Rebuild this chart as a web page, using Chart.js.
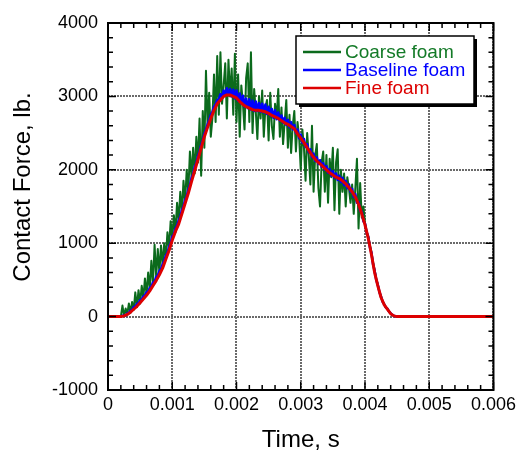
<!DOCTYPE html>
<html>
<head>
<meta charset="utf-8">
<script src="https://cdn.jsdelivr.net/npm/chart.js@4.4.1/dist/chart.umd.min.js"></script>
<style>
  html, body { margin: 0; padding: 0; background: #fff; }
</style>
</head>
<body>
<canvas id="chart" width="520" height="454"></canvas>
<script>
// Time stamps in microseconds
const fineTimeUs = [0,
  200, 250, 300, 350, 400, 450, 500, 550, 600, 650,
  700, 750, 800, 850, 900, 950, 1000, 1050, 1100, 1150,
  1200, 1250, 1300, 1350, 1400, 1450, 1500, 1550, 1600, 1650,
  1700, 1750, 1800, 1850, 1900, 1950, 2000, 2050, 2100, 2150,
  2200, 2250, 2300, 2350, 2400, 2450, 2500, 2550, 2600, 2650,
  2700, 2750, 2800, 2850, 2900, 2950, 3000, 3050, 3100, 3150,
  3200, 3250, 3300, 3350, 3400, 3450, 3500, 3550, 3600, 3650,
  3700, 3750, 3800, 3850, 3900, 3950, 4000, 4050, 4100, 4150,
  4200, 4250, 4300, 4350, 4400, 4450, 4500, 6000];

// Fine foam contact force, lb.
const fineForce = [0,
  0, 10, 30, 60, 100, 140, 190, 240, 290, 350,
  420, 490, 570, 660, 780, 900, 1040, 1160, 1260, 1400,
  1540, 1680, 1840, 1990, 2140, 2300, 2450, 2580, 2700, 2810,
  2900, 2950, 3000, 3020, 3020, 3000, 2980, 2930, 2890, 2860,
  2840, 2820, 2810, 2810, 2800, 2790, 2770, 2740, 2720, 2700,
  2670, 2640, 2620, 2590, 2560, 2490, 2430, 2370, 2300, 2230,
  2170, 2120, 2080, 2040, 2000, 1960, 1930, 1900, 1880, 1850,
  1810, 1760, 1700, 1630, 1530, 1400, 1250, 1070, 850, 600,
  420, 260, 160, 100, 40, 10, 0, 0];

const noisyTimeUs = [0,
  200, 225, 250, 275, 300, 325, 350, 375,
  400, 425, 450, 475, 500, 525, 550, 575,
  600, 625, 650, 675, 700, 725, 750, 775,
  800, 825, 850, 875, 900, 925, 950, 975,
  1000, 1025, 1050, 1075, 1100, 1125, 1150, 1175,
  1200, 1225, 1250, 1275, 1300, 1325, 1350, 1375,
  1400, 1425, 1450, 1475, 1500, 1525, 1550, 1575,
  1600, 1625, 1650, 1675, 1700, 1725, 1750, 1775,
  1800, 1825, 1850, 1875, 1900, 1925, 1950, 1975,
  2000, 2025, 2050, 2075, 2100, 2125, 2150, 2175,
  2200, 2225, 2250, 2275, 2300, 2325, 2350, 2375,
  2400, 2425, 2450, 2475, 2500, 2525, 2550, 2575,
  2600, 2625, 2650, 2675, 2700, 2725, 2750, 2775,
  2800, 2825, 2850, 2875, 2900, 2925, 2950, 2975,
  3000, 3025, 3050, 3075, 3100, 3125, 3150, 3175,
  3200, 3225, 3250, 3275, 3300, 3325, 3350, 3375,
  3400, 3425, 3450, 3475, 3500, 3525, 3550, 3575,
  3600, 3625, 3650, 3675, 3700, 3725, 3750, 3775,
  3800, 3825, 3850, 3875, 3900, 3925, 3950, 3975,
  4000, 4025, 4050, 4075, 4100, 4125, 4150, 4175,
  4200, 4225, 4250, 4275, 4300, 4325, 4350, 4375,
  4400, 4425, 4450, 4475, 4500, 6000];

// Baseline foam contact force, lb.
const baselineForce = [0,
  0, 10, 20, 15, 45, 50, 85, 90,
  130, 135, 175, 180, 225, 235, 275, 290,
  330, 345, 390, 410, 465, 480, 540, 560,
  620, 650, 710, 760, 830, 870, 950, 1000,
  1090, 1120, 1200, 1240, 1310, 1360, 1450, 1500,
  1590, 1640, 1730, 1790, 1890, 1940, 2040, 2090,
  2190, 2250, 2340, 2400, 2490, 2550, 2620, 2680,
  2750, 2790, 2860, 2890, 2950, 2960, 3030, 2990,
  3080, 3020, 3110, 3030, 3100, 3000, 3090, 2970,
  3080, 2940, 3040, 2900, 3010, 2860, 2970, 2840,
  2960, 2820, 2940, 2800, 2930, 2800, 2910, 2790,
  2900, 2780, 2890, 2760, 2860, 2740, 2830, 2710,
  2810, 2690, 2780, 2670, 2740, 2640, 2710, 2610,
  2680, 2580, 2650, 2550, 2610, 2500, 2550, 2430,
  2480, 2370, 2420, 2310, 2350, 2240, 2280, 2170,
  2220, 2120, 2170, 2080, 2130, 2040, 2090, 2000,
  2050, 1960, 2010, 1920, 1980, 1890, 1950, 1860,
  1920, 1830, 1890, 1790, 1850, 1750, 1800, 1700,
  1740, 1630, 1670, 1550, 1560, 1440, 1430, 1300,
  1270, 1150, 1090, 950, 870, 715, 620, 500,
  430, 335, 270, 205, 165, 125, 105, 68,
  45, 22, 12, 4, 0, 0];

// Coarse foam contact force, lb.
const coarseForce = [0,
  0, 150, 10, 110, 30, 180, 50, 200,
  90, 330, 130, 360, 180, 420, 250, 520,
  300, 600, 380, 760, 450, 980, 540, 920,
  600, 970, 700, 1000, 790, 1150, 930, 1300,
  1050, 1380, 1150, 1550, 1300, 1700, 1420, 1850,
  1550, 2000, 1700, 2250, 1900, 2300, 1950, 2450,
  2100, 2700, 1920, 2800, 2300, 3350, 2600, 3050,
  2450, 2700, 3300, 2650, 3550, 2750, 3600, 2900,
  3150, 3450, 2700, 3500, 3000, 3380, 2750, 3580,
  2650, 3300, 2450, 3150, 2900, 2550, 3250, 3450,
  2650, 3600, 2500, 3100, 2800, 2420, 3000, 2700,
  3080, 2450, 2850, 2950, 2400, 3050, 2600, 2420,
  2900, 2700, 3100, 2450, 2850, 2350, 2650, 2950,
  2300, 2750, 2230, 2600, 2800, 2250, 2650, 2450,
  2000, 2550, 2300, 1850, 2500, 2200, 1800, 2600,
  1700, 2200, 2350, 1750, 1500, 2100, 2250, 1700,
  2200, 1550, 2150, 1900, 2300, 1450, 2100, 2280,
  1400, 2000, 1700, 1950, 1500, 1900, 1750, 1550,
  1800, 1400, 1750, 2150, 1200, 1820, 1350, 1500,
  1280, 1150, 1100, 980, 880, 740, 640, 520,
  440, 330, 280, 200, 170, 120, 110, 60,
  45, 20, 10, 0, 0, 0];

const seriesNames = ['Coarse foam', 'Baseline foam', 'Fine foam'];
const seriesColors = ['#0b6a1c', '#0000ff', '#dd0000'];
const legendTextColors = ['#137a27', '#0000ff', '#dd0000'];
const xTickValues = [0, 0.001, 0.002, 0.003, 0.004, 0.005, 0.006];
const yTickValues = [-1000, 0, 1000, 2000, 3000, 4000];

const toPoints = (timesUs, values) => timesUs.map((t, i) => ({ x: t / 1e6, y: values[i] }));

const FONT = '"Liberation Sans", Arial, sans-serif';

// Inward minor/major ticks on every side, frame, axis titles, legend box
const decorations = {
    id: 'decorations',
    afterDatasetsDraw(chart) {
        const { ctx, chartArea: a, scales: { x, y } } = chart;
        ctx.save();
        ctx.strokeStyle = '#000';
        ctx.lineWidth = 1.5;
        ctx.beginPath();
        for (let i = 0; i <= 30; i++) {
            const px = x.getPixelForValue(i * 0.0002);
            const len = i % 5 === 0 ? 8 : 5;
            ctx.moveTo(px, a.bottom); ctx.lineTo(px, a.bottom - len);
            ctx.moveTo(px, a.top); ctx.lineTo(px, a.top + len);
        }
        for (let i = -5; i <= 20; i++) {
            const py = y.getPixelForValue(i * 200);
            const len = i % 5 === 0 ? 8 : 5;
            ctx.moveTo(a.left, py); ctx.lineTo(a.left + len, py);
            ctx.moveTo(a.right, py); ctx.lineTo(a.right - len, py);
        }
        ctx.stroke();
        ctx.lineWidth = 2;
        ctx.strokeRect(a.left, a.top, a.right - a.left, a.bottom - a.top);

        // axis titles
        ctx.fillStyle = '#000';
        ctx.font = '24px ' + FONT;
        ctx.textAlign = 'center';
        ctx.textBaseline = 'middle';
        ctx.fillText('Time, s', (a.left + a.right) / 2, 440);
        ctx.save();
        ctx.translate(23, 187);
        ctx.rotate(-Math.PI / 2);
        ctx.fillText('Contact Force, lb.', 0, 0);
        ctx.restore();

        // legend
        const box = { x: 296, y: 36, w: 178, h: 68 };
        ctx.fillStyle = '#000';
        ctx.fillRect(box.x + 3, box.y + 3, box.w, box.h);
        ctx.fillStyle = '#fff';
        ctx.fillRect(box.x, box.y, box.w, box.h);
        ctx.lineWidth = 1.5;
        ctx.strokeStyle = '#000';
        ctx.strokeRect(box.x, box.y, box.w, box.h);
        ctx.font = '19px ' + FONT;
        ctx.textAlign = 'left';
        chart.data.datasets.forEach((ds, i) => {
            const ly = 52 + i * 18;
            ctx.strokeStyle = ds.borderColor;
            ctx.lineWidth = 2.5;
            ctx.beginPath();
            ctx.moveTo(303, ly); ctx.lineTo(341, ly);
            ctx.stroke();
            ctx.fillStyle = legendTextColors[i];
            ctx.fillText(ds.label, 345, ly + 1);
        });
        ctx.restore();
    }
};

new Chart(document.getElementById('chart'), {
    type: 'line',
    data: {
        datasets: [
            // higher order is drawn first, so red ends up on top
            { label: seriesNames[0], data: toPoints(noisyTimeUs, coarseForce), borderColor: seriesColors[0], borderWidth: 2, order: 3 },
            { label: seriesNames[1], data: toPoints(noisyTimeUs, baselineForce), borderColor: seriesColors[1], borderWidth: 2.5, order: 2 },
            { label: seriesNames[2], data: toPoints(fineTimeUs, fineForce), borderColor: seriesColors[2], borderWidth: 3, order: 1 }
        ]
    },
    options: {
        responsive: false,
        animation: false,
        devicePixelRatio: 1,
        layout: { padding: { top: 23, right: 24, left: 0, bottom: 0 } },
        elements: { point: { radius: 0 }, line: { tension: 0, borderJoinStyle: 'round' } },
        plugins: { legend: { display: false }, tooltip: { enabled: false } },
        scales: {
            x: {
                type: 'linear',
                min: 0, max: 0.006,
                afterFit: s => { s.height = 64; },
                afterBuildTicks: s => { s.ticks = xTickValues.map(v => ({ value: v })); },
                ticks: {
                    padding: 4,
                    color: '#000',
                    font: { family: FONT, size: 18 },
                    maxRotation: 0,
                    callback: v => v === 0 ? '0' : Number(v).toFixed(3)
                },
                grid: { color: '#6a6a6a', lineWidth: 2, drawTicks: false },
                border: { display: false, dash: [2, 1] }
            },
            y: {
                min: -1000, max: 4000,
                afterFit: s => { s.width = 108; },
                afterBuildTicks: s => { s.ticks = yTickValues.map(v => ({ value: v })); },
                ticks: {
                    padding: 10,
                    color: '#000',
                    font: { family: FONT, size: 18 },
                    callback: v => String(v)
                },
                grid: { color: '#6a6a6a', lineWidth: 2, drawTicks: false },
                border: { display: false, dash: [2, 1] }
            }
        }
    },
    plugins: [decorations]
});
</script>
</body>
</html>
